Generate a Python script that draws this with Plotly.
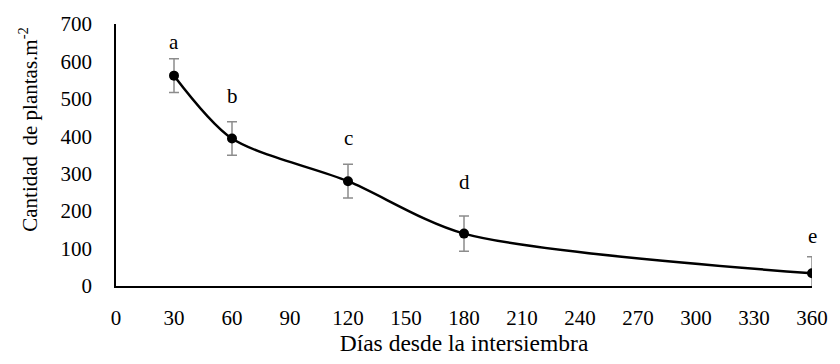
import plotly.graph_objects as go

dias = [30, 60, 120, 180, 360]
plantas = [562, 394, 280, 140, 34]
error = [45, 45, 45, 47, 44]
letras = ["a", "b", "c", "d", "e"]
letra_offset_px = [14, 23, 23, 31, 18]

x_ticks = list(range(0, 361, 30))
y_ticks = list(range(0, 701, 100))

FONT = "Liberation Serif"

fig = go.Figure()
fig.add_trace(go.Scatter(
    x=dias, y=plantas, mode="lines+markers",
    line=dict(color="black", width=2.5, shape="spline", smoothing=0.8),
    marker=dict(color="black", size=10),
    error_y=dict(type="data", array=error, visible=True, color="#8c8c8c",
                 thickness=1.5, width=5),
    showlegend=False,
))

for xv, yv, ev, lt, off in zip(dias, plantas, error, letras, letra_offset_px):
    fig.add_annotation(x=xv, y=yv + ev, text=lt, showarrow=False,
                       yanchor="bottom", yshift=off - 11,
                       font=dict(family=FONT, size=21, color="black"))

fig.add_annotation(xref="paper", yref="paper", x=-0.125, y=(290 - 129) / 270,
                   text="Cantidad  de plantas.m<sup>-2</sup>", textangle=-90,
                   showarrow=False, xanchor="center", yanchor="middle",
                   font=dict(family=FONT, size=21, color="black"))

fig.update_layout(
    width=840, height=364,
    margin=dict(l=116, r=18, t=20, b=74),
    plot_bgcolor="white", paper_bgcolor="white",
    font=dict(family=FONT, size=21, color="black"),
    xaxis=dict(range=[0, 360], tickvals=x_ticks, showgrid=False, zeroline=False,
               showline=True, linecolor="black", linewidth=1.5, ticks="",
               ticklabelstandoff=12, tickfont=dict(family=FONT, size=21),
               title=dict(text="Días desde la intersiembra", standoff=6,
                          font=dict(family=FONT, size=23.5))),
    yaxis=dict(range=[0, 700], tickvals=y_ticks, showgrid=False, zeroline=False,
               showline=True, linecolor="black", linewidth=1.5, ticks="",
               ticklabelstandoff=18, tickfont=dict(family=FONT, size=21)),
)

fig.write_html("out.html")
